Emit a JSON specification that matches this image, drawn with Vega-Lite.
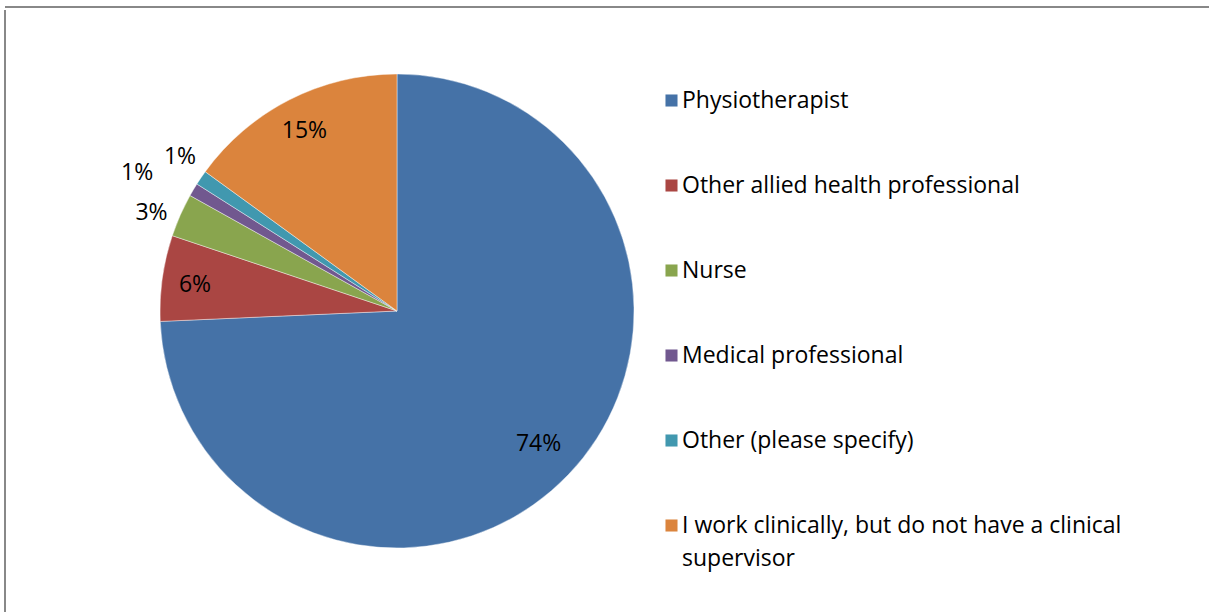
{
  "$schema": "https://vega.github.io/schema/vega-lite/v6.json",
  "padding": {"left": 4, "top": 6, "right": 0, "bottom": 0},
  "background": "#ffffff",
  "spacing": 0,
  "config": {
    "font": "Open Sans",
    "style": {"guide-label": {"lineHeight": 33}}
  },
  "datasets": {
    "roles": [
      {"idx": 1, "category": "Physiotherapist", "value": 74.3, "label": "74%"},
      {"idx": 2, "category": "Other allied health professional", "value": 5.85, "label": "6%"},
      {"idx": 3, "category": "Nurse", "value": 2.95, "label": "3%"},
      {"idx": 4, "category": "Medical professional", "value": 0.9, "label": "1%"},
      {"idx": 5, "category": "Other (please specify)", "value": 1.0, "label": "1%"},
      {"idx": 6, "category": "I work clinically, but do not have a clinical supervisor", "value": 15.0, "label": "15%"}
    ]
  },
  "vconcat": [
    {
      "width": 1204,
      "height": 1,
      "view": {"stroke": "#888888", "strokeWidth": 2, "strokeDash": [1204, 1206]},
      "data": {"values": []},
      "mark": "point"
    },
    {
      "width": 784,
      "height": 602,
      "view": {"stroke": "#888888", "strokeWidth": 2, "strokeDash": [0, 2170, 602]},
      "data": {"name": "roles"},
      "encoding": {
        "theta": {"field": "value", "type": "quantitative", "stack": true},
        "order": {"field": "idx", "type": "quantitative"}
      },
      "layer": [
        {
          "mark": {"type": "arc", "outerRadius": 237, "stroke": "#ffffff", "strokeWidth": 0.6, "strokeOpacity": 0.7},
          "encoding": {
            "color": {
              "field": "category",
              "type": "nominal",
              "scale": {
                "domain": ["Physiotherapist", "Other allied health professional", "Nurse", "Medical professional", "Other (please specify)", "I work clinically, but do not have a clinical supervisor"],
                "range": ["#4572A7", "#AA4643", "#89A54E", "#71588F", "#4198AF", "#DB843D"]
              },
              "legend": {
                "orient": "none",
                "direction": "vertical",
                "legendX": 655,
                "legendY": 82,
                "title": null,
                "symbolType": "square",
                "symbolSize": 145,
                "symbolStrokeWidth": 0,
                "symbolOpacity": 1,
                "labelFont": "Open Sans",
                "labelFontSize": 23,
                "labelColor": "#000000",
                "labelOffset": -1,
                "labelLimit": 700,
                "rowPadding": 61,
                "labelExpr": "datum.label == 'I work clinically, but do not have a clinical supervisor' ? ['I work clinically, but do not have a clinical', 'supervisor'] : datum.label"
              }
            }
          }
        },
        {
          "mark": {"type": "text", "radius": 196, "font": "Open Sans", "fontSize": 23, "fill": "#000000", "dy": -3},
          "encoding": {
            "text": {"condition": {"test": "datum.idx == 1", "field": "label"}, "value": ""}
          }
        },
        {
          "mark": {"type": "text", "radius": 204, "font": "Open Sans", "fontSize": 23, "fill": "#000000", "dy": 2},
          "encoding": {
            "text": {"condition": {"test": "datum.idx == 2 || datum.idx == 6", "field": "label"}, "value": ""}
          }
        },
        {
          "mark": {"type": "text", "radius": 264, "font": "Open Sans", "fontSize": 23, "fill": "#000000", "dx": -4, "dy": 9},
          "encoding": {
            "text": {"condition": {"test": "datum.idx == 3", "field": "label"}, "value": ""}
          }
        },
        {
          "mark": {"type": "text", "radius": 264, "font": "Open Sans", "fontSize": 23, "fill": "#000000", "dx": -33, "dy": -3},
          "encoding": {
            "text": {"condition": {"test": "datum.idx == 4", "field": "label"}, "value": ""}
          }
        },
        {
          "mark": {"type": "text", "radius": 266, "font": "Open Sans", "fontSize": 23, "fill": "#000000", "dx": 3, "dy": -4},
          "encoding": {
            "text": {"condition": {"test": "datum.idx == 5", "field": "label"}, "value": ""}
          }
        }
      ]
    }
  ]
}
